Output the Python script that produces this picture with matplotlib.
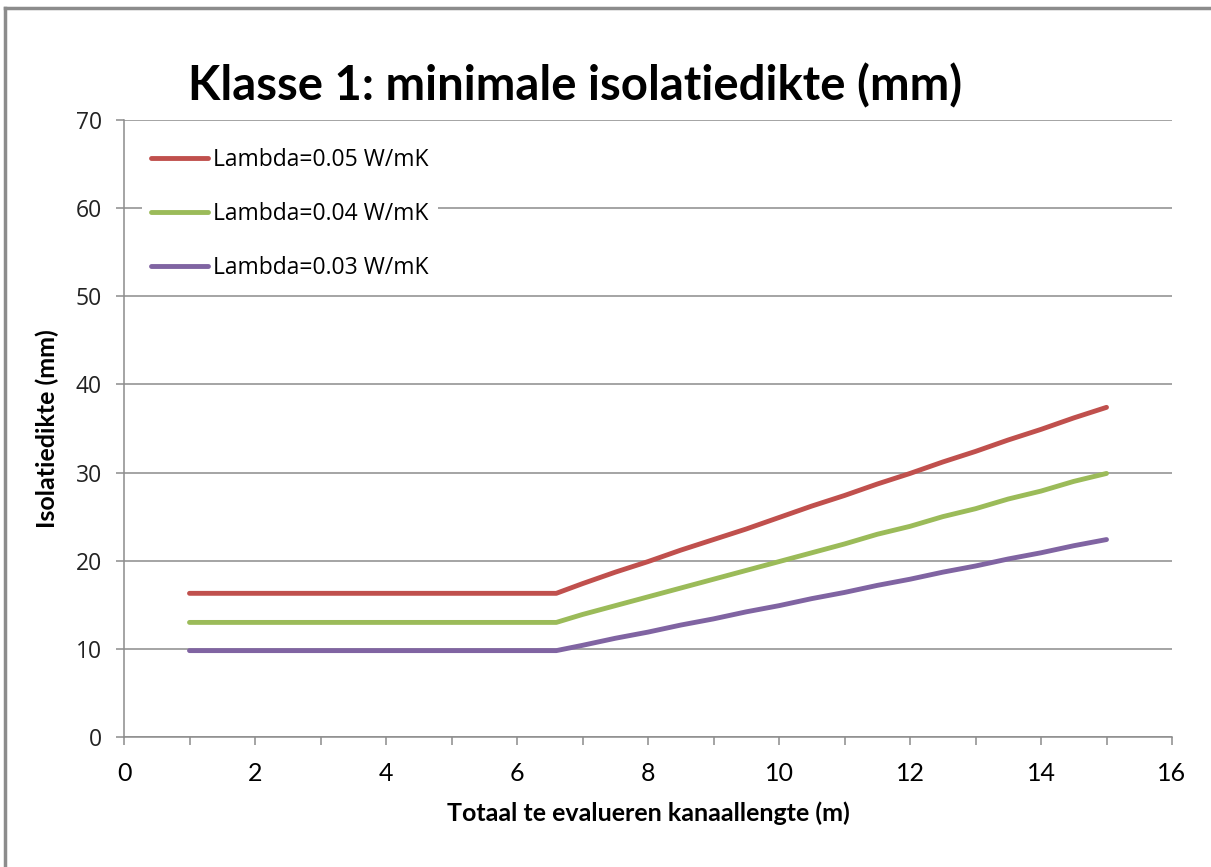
import matplotlib

matplotlib.use("Agg")
import matplotlib.pyplot as plt
from matplotlib.lines import Line2D
from matplotlib.ticker import MultipleLocator

# kanaallengte (m) and minimal insulation thickness (mm) per lambda
x_len = [1, 6.6, 7, 7.5, 8, 8.5, 9, 9.5, 10, 10.5, 11, 11.5, 12, 12.5, 13, 13.5, 14, 14.5, 15]
d_005 = [16.3, 16.3, 17.4, 18.7, 19.9, 21.2, 22.4, 23.6, 24.9, 26.2, 27.4, 28.7, 29.9, 31.2, 32.4, 33.7, 34.9, 36.2, 37.4]
d_004 = [13.0, 13.0, 13.9, 14.9, 15.9, 16.9, 17.9, 18.9, 19.9, 20.9, 21.9, 23.0, 23.9, 25.0, 25.9, 27.0, 27.9, 29.0, 29.9]
d_003 = [9.8, 9.8, 10.4, 11.2, 11.9, 12.7, 13.4, 14.2, 14.9, 15.7, 16.4, 17.2, 17.9, 18.7, 19.4, 20.2, 20.9, 21.7, 22.4]
labels = ["Lambda=0.05 W/mK", "Lambda=0.04 W/mK", "Lambda=0.03 W/mK"]
colors = ["#C0504D", "#9BBB59", "#8064A2"]

W, H = 1211, 867
fig = plt.figure(figsize=(W / 100, H / 100), dpi=100)
ax = fig.add_axes([124 / W, 1 - 737 / H, (1172 - 124) / W, (737 - 120) / H])

for ys, lab, c in zip([d_005, d_004, d_003], labels, colors):
    ax.plot(x_len, ys, color=c, lw=3.5, label=lab, solid_capstyle="round")

ax.set_xlim(0, 16)
ax.set_ylim(0, 70)
ax.xaxis.set_major_locator(MultipleLocator(2))
ax.xaxis.set_minor_locator(MultipleLocator(1))
ax.yaxis.set_major_locator(MultipleLocator(10))
ax.grid(axis="y", color="#8c8c8c", lw=1.1)
ax.set_axisbelow(True)
for s in ["top", "right"]:
    ax.spines[s].set_visible(False)
for s in ["left", "bottom"]:
    ax.spines[s].set_color("#8c8c8c")
    ax.spines[s].set_linewidth(1.1)
ax.tick_params(which="both", direction="out", color="#8c8c8c", width=1.1)
ax.tick_params(axis="x", which="both", length=6, pad=12)
ax.tick_params(axis="y", length=6, pad=10)
for t in ax.get_xticklabels():
    t.set_fontfamily("Lato")
    t.set_fontsize(18)
for t in ax.get_yticklabels():
    t.set_fontfamily("Open Sans")
    t.set_fontsize(16.5)
    t.set_color("#222222")

ax.set_xlabel("Totaal te evalueren kanaallengte (m)", fontfamily="Lato",
              fontweight="bold", fontsize=18, labelpad=12)
ax.set_ylabel("Isolatiedikte (mm)", fontfamily="Lato", fontweight="bold",
              fontsize=18, labelpad=12)

leg = ax.legend(loc="upper left", bbox_to_anchor=(0.017, 0.969), frameon=True,
                prop={"family": "Open Sans", "size": 16.5}, handlelength=2.5,
                handletextpad=0.2, labelspacing=1.3, borderpad=0.4,
                borderaxespad=0)
leg.get_frame().set_facecolor("white")
leg.get_frame().set_edgecolor("none")
leg.get_frame().set_alpha(1)

fig.text(575 / W, 1 - 86 / H, "Klasse 1: minimale isolatiedikte (mm)",
         fontfamily="Lato", fontweight="bold", fontsize=34, ha="center", va="center")

# outer chart frame (top and left edges visible)
fig.add_artist(Line2D([5 / W, 1], [1 - 8 / H, 1 - 8 / H], color="#8c8c8c", lw=2.5))
fig.add_artist(Line2D([5 / W, 5 / W], [0, 1 - 8 / H], color="#8c8c8c", lw=2.5))

fig.savefig("out.png", dpi=100)
